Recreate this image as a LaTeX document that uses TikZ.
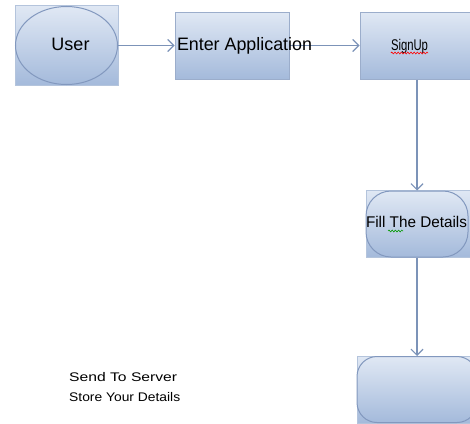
\documentclass[tikz,border=0pt]{standalone}
\usepackage{fontspec}
\setmainfont{Liberation Sans}
\usetikzlibrary{arrows.meta,decorations.pathmorphing,shapes.geometric}
\definecolor{gtop}{HTML}{E0E8F4}
\definecolor{gbot}{HTML}{A4BADB}
\definecolor{edge}{HTML}{8298BE}
\definecolor{bgedge}{HTML}{B4C4DC}
\definecolor{arr}{HTML}{7C93B8}
\newcommand\fitw[2]{\resizebox{#1}{\height}{#2}}
\tikzset{
  bgbox/.style={rectangle, draw=bgedge, line width=0.6pt, top color=gtop, bottom color=gbot, inner sep=0pt},
  shapebox/.style={draw=edge, line width=1pt, top color=gtop, bottom color=gbot, inner sep=0pt},
  lbl/.style={inner sep=0pt, text=black},
  conn/.style={draw=arr, line width=1.6pt, -{Straight Barb[length=6pt,width=12pt,line width=1.2pt]}},
  squiggle/.style={decorate, decoration={snake, amplitude=0.9pt, segment length=3.2pt}, line width=0.6pt}
}
\begin{document}
\begin{tikzpicture}[x=1pt,y=-1pt]
\useasboundingbox (0,0) rectangle (470,423);
\clip (0,0) rectangle (470,423);
% User
\node[bgbox, minimum width=103pt, minimum height=80pt] (userbg) at (66.5,45) {};
\node[shapebox, ellipse, minimum width=102pt, minimum height=78pt] (user) at (66.5,45.5) {};
\node[lbl] (usertxt) at (70.5,44) {\fontsize{18}{18}\selectfont User};
% Enter Application
\node[shapebox, rectangle, draw=edge!80, minimum width=114pt, minimum height=67pt] (enter) at (232,45.5) {};
% SignUp
\node[shapebox, rectangle, draw=edge!80, minimum width=114pt, minimum height=67pt] (signup) at (417,45.5) {};
% Fill The Details
\node[bgbox, minimum width=106pt, minimum height=67pt] (fillbg) at (419,223.5) {};
\node[shapebox, rectangle, rounded corners=25pt, minimum width=102pt, minimum height=66pt] (fill) at (417,224) {};
% bottom shape
\node[bgbox, minimum width=116pt, minimum height=67pt] (lastbg) at (415,389.5) {};
\node[shapebox, rectangle, rounded corners=20pt, minimum width=120pt, minimum height=66pt] (last) at (417,389.5) {};
% connectors
\draw[conn] (user.east) -- (enter.west);
\draw[conn] (enter.east) -- (signup.west);
\draw[conn] (signup.south) -- (fill.north);
\draw[conn] (fill.south) -- (last.north);
% labels
\node[lbl, anchor=base] (entertxt) at (244.5,50) {\fitw{135pt}{\fontsize{18}{18}\selectfont Enter Application}};
\node[lbl, anchor=base] (signuptxt) at (409.5,50) {\fitw{37pt}{\fontsize{15.5}{15.5}\selectfont SignUp}};
\draw[red, squiggle] ([yshift=-3pt]signuptxt.base west) -- ([yshift=-3pt]signuptxt.base east);
\node[lbl, anchor=base] (filltxt) at (416.5,227) {\fitw{101pt}{\fontsize{15.5}{15.5}\selectfont Fill The Details}};
\draw[green!60!black, squiggle] (388,231) -- (403,231);
\node[lbl, anchor=base west] (send) at (69,381) {\fitw{108pt}{\fontsize{12.5}{12.5}\selectfont Send To Server}};
\node[lbl, anchor=base west] (store) at (69,401) {\fitw{111pt}{\fontsize{12.5}{12.5}\selectfont Store Your Details}};
\end{tikzpicture}
\end{document}
